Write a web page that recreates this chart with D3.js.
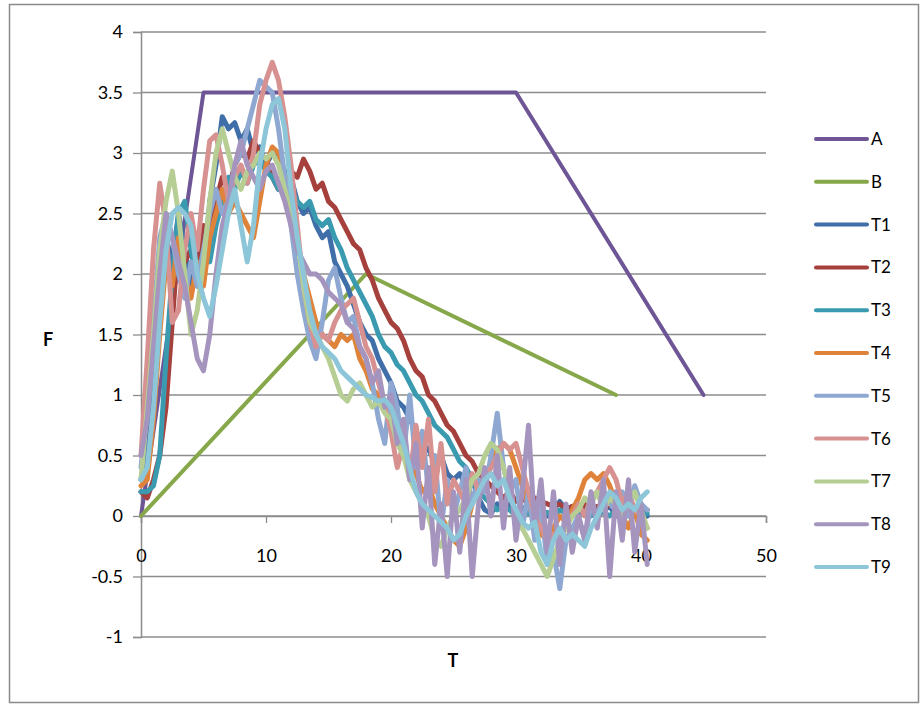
<!DOCTYPE html>
<html><head><meta charset="utf-8">
<script src="https://cdn.jsdelivr.net/npm/d3@7"></script>
<style>body{margin:0;background:#fff}svg text{font-family:Lato,"Open Sans",sans-serif}</style>
</head><body><svg id="c" width="924" height="707"></svg>
<script>
// ---- data ----
const xStep = 0.5; // T series sampled every 0.5 from T=0
const seriesNames = ["A","B","T1","T2","T3","T4","T5","T6","T7","T8","T9"];
const A_x = [0,5,30,45];
const A_y = [0,3.5,3.5,1];
const B_x = [0,18,38];
const B_y = [0,2,1];
const T1 = [0.3,0.6,1.2,1.8,2.3,2.1,2.5,2.2,1.9,2.2,2.0,2.6,2.9,3.3,3.2,3.25,3.1,3.2,3.0,3.05,2.9,3.0,2.95,2.85,2.8,2.6,2.5,2.55,2.4,2.3,2.35,2.1,2.0,1.9,1.75,1.6,1.5,1.45,1.3,1.2,1.1,0.95,0.9,0.8,0.7,0.6,0.55,0.45,0.5,0.35,0.3,0.35,0.25,0.3,0.15,0.05,0.02,0.1,0.05,0.1,0.0,0.05,0.1,0.05,0.08,0.0,0.05,0.12,0.05,0.08,0.02,0.05,0.1,0.0,0.05,0.08,0.0,0.05,0.1,0.0,0.05,0.0];
const T2 = [0.2,0.15,0.3,0.5,0.9,1.6,2.3,2.1,2.2,2.0,2.4,2.3,2.6,2.8,2.7,2.9,3.0,2.95,3.1,3.0,2.95,2.8,2.7,2.75,2.85,2.8,2.95,2.85,2.7,2.75,2.6,2.55,2.45,2.35,2.25,2.2,2.05,1.95,1.8,1.7,1.6,1.55,1.45,1.3,1.2,1.15,1.0,0.95,0.85,0.75,0.7,0.6,0.5,0.45,0.35,0.3,0.25,0.2,0.15,0.2,0.12,0.15,0.1,0.15,0.12,0.1,0.08,0.1,0.05,0.08,0.05,0.1,0.05,0.08,0.05,0.1,0.08,0.05,0.1,0.05,0.08,0.05];
const T3 = [0.2,0.2,0.25,0.5,1.3,2.0,2.5,2.6,2.2,1.9,2.2,2.1,2.4,2.6,2.8,2.7,2.85,2.75,2.9,2.95,2.85,2.8,2.7,2.75,2.7,2.6,2.55,2.6,2.45,2.4,2.45,2.3,2.2,2.05,1.95,1.85,1.75,1.65,1.5,1.4,1.35,1.25,1.2,1.1,1.0,0.95,0.85,0.75,0.7,0.65,0.55,0.45,0.4,0.3,0.2,0.15,0.1,0.05,0.08,0.05,0.0,0.05,0.02,0.05,0.0,0.03,0.0,0.05,0.02,0.0,0.05,0.02,0.0,0.05,0.03,0.0,0.05,0.02,0.0,0.05,0.03,0.02];
const T4 = [0.25,0.3,0.8,1.5,2.1,1.9,2.3,2.0,1.8,2.1,1.9,2.3,2.5,2.7,2.5,2.6,2.5,2.4,2.3,2.6,2.9,3.05,3.0,2.8,2.6,2.3,2.0,1.8,1.6,1.5,1.45,1.4,1.5,1.45,1.5,1.3,1.2,1.05,1.0,0.9,0.85,0.7,0.6,0.4,0.35,0.2,0.25,0.1,0.0,-0.1,-0.2,-0.25,-0.1,0.1,0.2,0.3,0.45,0.55,0.6,0.55,0.4,0.25,0.1,-0.05,-0.15,-0.2,-0.1,0.0,-0.05,0.05,0.15,0.3,0.35,0.3,0.35,0.25,0.1,0.0,-0.1,0.05,-0.15,-0.2];
const T5 = [0.4,0.9,1.6,2.3,2.5,2.3,2.0,1.8,2.1,1.9,2.2,2.5,2.7,2.5,2.6,2.9,3.0,3.2,3.4,3.6,3.55,3.5,3.2,2.8,2.4,2.0,1.7,1.45,1.3,1.6,1.95,2.05,1.8,1.6,1.65,1.4,1.3,1.1,0.8,0.6,1.1,0.9,0.5,1.0,0.4,0.7,0.2,0.5,-0.1,0.3,0.0,0.2,0.4,0.1,0.3,0.2,0.5,0.85,0.4,0.2,0.3,-0.1,0.2,-0.2,0.1,-0.4,-0.3,-0.6,-0.2,-0.1,0.0,-0.2,0.1,0.0,0.2,0.1,0.05,0.2,0.0,0.25,0.1,0.05];
const T6 = [0.5,1.3,2.2,2.75,2.4,1.6,1.7,2.2,2.5,2.2,2.7,3.1,3.15,2.9,2.6,2.8,2.9,2.75,3.0,3.4,3.6,3.75,3.6,3.3,2.9,2.4,1.9,1.6,1.4,1.5,1.45,1.6,1.7,1.75,1.8,1.6,1.4,1.3,1.1,0.9,0.7,0.4,0.6,0.3,0.75,0.4,0.8,0.2,0.6,0.1,0.3,0.2,0.1,0.35,0.2,0.3,0.4,0.5,0.6,0.55,0.6,0.4,0.2,0.0,-0.1,-0.2,-0.15,-0.2,-0.05,0.0,0.1,0.0,0.15,0.2,0.3,0.4,0.3,0.1,0.2,0.05,0.0,-0.1];
const T7 = [0.3,0.9,1.5,2.2,2.6,2.85,2.5,2.0,1.5,1.7,2.1,2.6,3.0,3.2,3.0,2.8,2.7,2.85,2.9,3.0,2.95,3.0,2.9,2.7,2.5,2.3,1.9,1.6,1.5,1.4,1.3,1.15,1.0,0.95,1.05,1.1,1.0,0.9,0.95,0.85,0.8,0.6,0.5,0.3,0.2,0.1,0.0,-0.2,-0.25,-0.1,0.0,0.05,0.15,0.3,0.35,0.5,0.6,0.55,0.4,0.2,0.0,-0.1,-0.2,-0.3,-0.4,-0.5,-0.35,-0.2,-0.1,0.0,0.05,0.15,0.1,0.2,0.05,0.15,0.1,0.0,0.1,0.2,0.05,-0.1];
const T8 = [0.5,0.8,1.4,2.0,2.5,2.3,2.1,1.9,1.6,1.3,1.2,1.5,2.0,2.4,2.6,2.9,3.1,2.9,2.8,2.7,2.85,2.9,2.75,2.6,2.4,2.2,2.1,2.0,2.0,1.95,1.85,1.8,1.75,1.6,1.55,1.4,1.3,1.1,1.2,0.9,1.0,0.6,0.8,0.3,0.6,-0.1,0.4,-0.4,0.1,-0.5,0.2,-0.3,0.3,-0.5,0.1,0.4,0.0,0.5,-0.1,0.4,-0.2,0.2,0.75,-0.1,0.3,-0.3,0.2,-0.4,0.1,-0.3,0.0,-0.2,0.2,-0.1,0.3,-0.5,0.2,-0.2,0.3,-0.3,0.1,-0.4];
const T9 = [0.3,0.4,0.9,1.6,2.2,2.5,2.55,2.5,2.4,2.0,1.8,1.65,1.9,2.2,2.5,2.7,2.4,2.1,2.4,2.9,3.2,3.4,3.45,3.2,2.7,2.3,2.0,1.7,1.5,1.4,1.35,1.3,1.2,1.15,1.1,1.05,1.0,0.98,0.95,0.96,0.9,0.75,0.6,0.4,0.2,0.1,0.05,0.0,-0.05,-0.1,-0.2,-0.15,0.0,0.1,0.2,0.3,0.35,0.25,0.3,0.15,0.05,-0.05,-0.1,-0.05,-0.3,-0.4,-0.2,-0.1,-0.2,-0.15,-0.2,-0.25,-0.1,0.0,0.1,0.2,0.15,0.05,0.1,0.05,0.15,0.2];
const xTicks = [0,10,20,30,40,50];
const yTicks = [-1,-0.5,0,0.5,1,1.5,2,2.5,3,3.5,4];
const colors = ["#6D5596","#87A84A","#3F6EA8","#A5403D","#3A9AB0","#E0833A","#8FA8D2","#D69190","#B6CD93","#A595BE","#8CC6D8"];

// ---- build ----
const tSeries = [T1,T2,T3,T4,T5,T6,T7,T8,T9];
const series = [
  {name:"A", pts:A_x.map((x,i)=>[x,A_y[i]])},
  {name:"B", pts:B_x.map((x,i)=>[x,B_y[i]])},
  ...tSeries.map((arr,k)=>({name:"T"+(k+1), pts:arr.map((v,i)=>[i*xStep,v])}))
];
const svg = d3.select("#c");
svg.append("rect").attr("x",9.5).attr("y",4.5).attr("width",909).attr("height",698)
  .attr("fill","#fff").attr("stroke","#8a8a8a").attr("stroke-width",1.5);

const x = d3.scaleLinear().domain([0,50]).range([141,766]);
const y = d3.scaleLinear().domain([-1,4]).range([637,32]);

// gridlines
svg.append("g").selectAll("line").data(yTicks).join("line")
  .attr("x1",141).attr("x2",766).attr("y1",d=>y(d)).attr("y2",d=>y(d))
  .attr("stroke","#8c8c8c").attr("stroke-width",1.3);

// y axis
const yAxis = svg.append("g").attr("transform","translate(141,0)")
  .call(d3.axisLeft(y).tickValues(yTicks).tickSize(8).tickPadding(10).tickFormat(d=>String(d)));
yAxis.select(".domain").attr("stroke","#8c8c8c").attr("stroke-width",1.5);
yAxis.selectAll(".tick line").attr("stroke","#8c8c8c").attr("stroke-width",1.3);
yAxis.selectAll("text").attr("font-size",18).attr("fill","#000");

// x axis at y=0
const xAxis = svg.append("g").attr("transform",`translate(0,${y(0)})`)
  .call(d3.axisBottom(x).tickValues(xTicks).tickSize(7).tickPadding(26).tickFormat(d=>String(d)));
xAxis.select(".domain").attr("stroke","#8c8c8c").attr("stroke-width",1.5);
xAxis.selectAll(".tick line").attr("stroke","#8c8c8c").attr("stroke-width",1.3);
xAxis.selectAll("text").attr("font-size",18).attr("fill","#000");

// lines
const line = d3.line().x(d=>x(d[0])).y(d=>y(d[1])).curve(d3.curveLinear);
svg.append("g").selectAll("path").data(series).join("path")
  .attr("d",d=>line(d.pts)).attr("fill","none")
  .attr("stroke",(d,i)=>colors[i]).attr("stroke-width",(d,i)=>i<2?4:5)
  .attr("stroke-linejoin","round").attr("stroke-linecap","round");

// axis titles
svg.append("text").attr("x",48).attr("y",346).attr("text-anchor","middle")
  .attr("font-size",18).attr("font-weight","bold").text("F");
svg.append("text").attr("x",453).attr("y",667).attr("text-anchor","middle")
  .attr("font-size",18).attr("font-weight","bold").text("T");

// legend
const lg = svg.append("g").selectAll("g").data(seriesNames).join("g")
  .attr("transform",(d,i)=>`translate(816,${139+i*42.8})`);
lg.append("line").attr("x1",0).attr("x2",51).attr("stroke",(d,i)=>colors[i])
  .attr("stroke-width",4).attr("stroke-linecap","round");
lg.append("text").attr("x",55).attr("y",6).attr("font-size",17).text(d=>d);
</script></body></html>
